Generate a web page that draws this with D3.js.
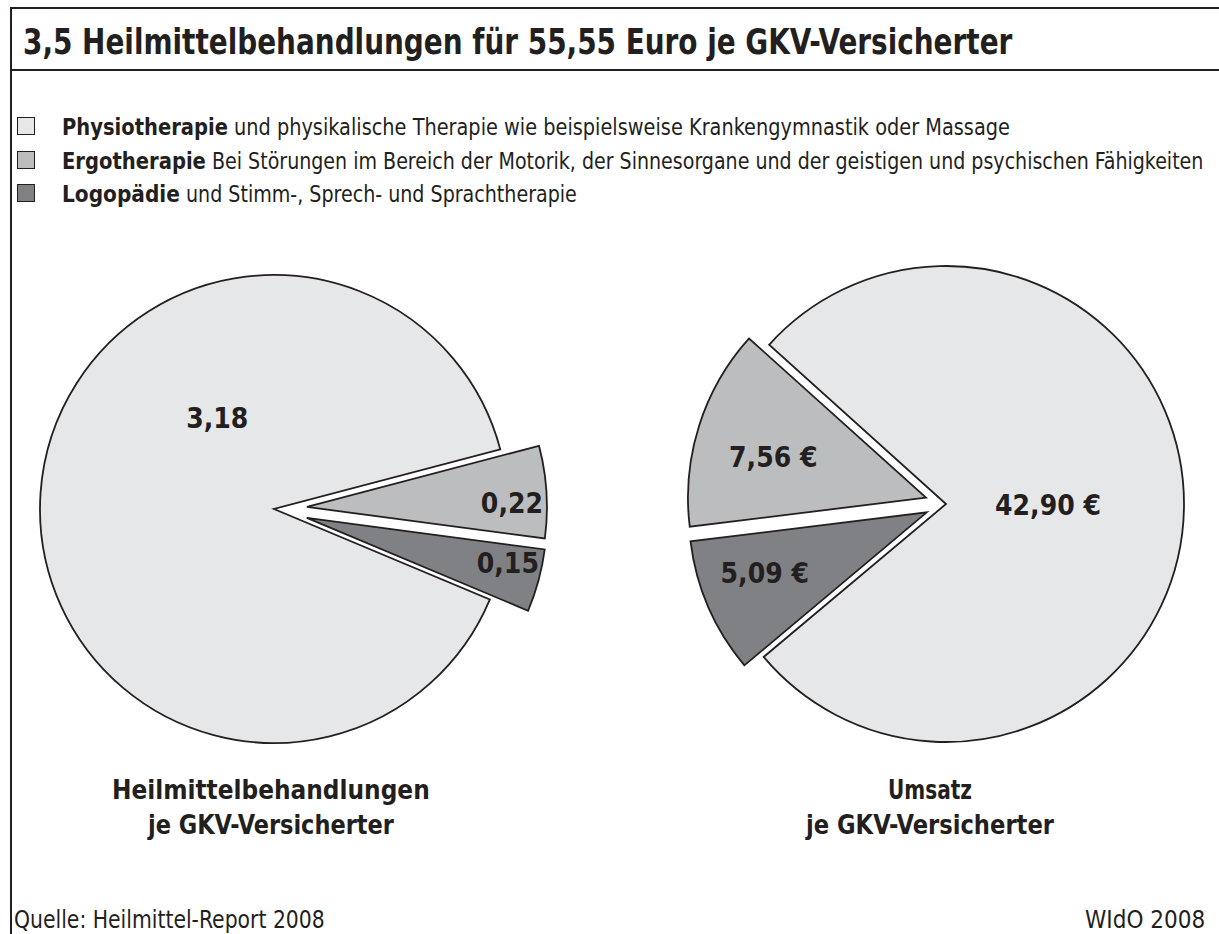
<!DOCTYPE html>
<html lang="de">
<head>
<meta charset="utf-8">
<title>Heilmittelbehandlungen je GKV-Versicherter</title>
<script src="https://d3js.org/d3.v7.min.js"></script>
<style>
  body { margin: 0; background: #fff; }
  text { fill: #231f20; }
  .bold { font-family: "Liberation Sans Narrow", "DejaVu Sans Condensed", sans-serif; font-weight: bold; }
  .light { font-family: "Liberation Sans Narrow", "DejaVu Sans Condensed", sans-serif; font-weight: normal; }
</style>
</head>
<body>
<div id="chart"></div>
<script>
// --- data
const categories = ["Physiotherapie", "Ergotherapie", "Logopädie"];
const legendRest = [
  "und physikalische Therapie wie beispielsweise Krankengymnastik oder Massage",
  "Bei Störungen im Bereich der Motorik, der Sinnesorgane und der geistigen und psychischen Fähigkeiten",
  "und Stimm-, Sprech- und Sprachtherapie"
];
const behandlungen = [3.18, 0.22, 0.15];
const umsatz = [42.90, 7.56, 5.09];
const behandlungenLabels = ["3,18", "0,22", "0,15"];
const umsatzLabels = ["42,90 €", "7,56 €", "5,09 €"];
const pieTitles = [["Heilmittelbehandlungen", "je GKV-Versicherter"], ["Umsatz", "je GKV-Versicherter"]];
const title = "3,5 Heilmittelbehandlungen für 55,55 Euro je GKV-Versicherter";
const source = "Quelle: Heilmittel-Report 2008";
const credit = "WIdO 2008";

// --- layout / style
const W = 1219, H = 934;
const colors = ["#e6e7e8", "#bcbdbf", "#808184"];
const ink = "#231f20";

const pies = [
  { values: behandlungen, labels: behandlungenLabels, cx: 274, cy: 509,
    radius: [234, 240, 240], explode: [0, 33, 34], gap: 94, dir: 1,
    labelPos: [[328, 107], [88.6, 238], [103, 240]],
    titleX: 271, titleW: [318, 246] },
  { values: umsatz, labels: umsatzLabels, cx: 946, cy: 504,
    radius: [238, 238, 238], explode: [0, 21, 21], gap: 271, dir: -1,
    labelPos: [[90.6, 102], [285.2, 179], [249.1, 194]],
    titleX: 930, titleW: [84, 248] }
];

const svg = d3.select("#chart").append("svg")
  .attr("width", W).attr("height", H)
  .attr("viewBox", `0 0 ${W} ${H}`);

// text squeezed horizontally to a given width (left edge x, or centred on x)
function fitText(cls, str, x, y, size, width, centred) {
  const t = svg.append("text").attr("class", cls)
    .attr("font-size", size).text(str);
  const natural = t.node().getComputedTextLength();
  const k = Math.min(1, width / natural);
  const x0 = centred ? x - width / 2 : x;
  t.attr("transform", `translate(${x0},${y}) scale(${k},1)`);
  return t;
}

// frame
svg.append("line").attr("x1", 11).attr("x2", W).attr("y1", 8).attr("y2", 8)
  .attr("stroke", ink).attr("stroke-width", 2);
svg.append("line").attr("x1", 11).attr("x2", 11).attr("y1", 7).attr("y2", H)
  .attr("stroke", ink).attr("stroke-width", 2);
svg.append("line").attr("x1", 11).attr("x2", W).attr("y1", 70).attr("y2", 70)
  .attr("stroke", ink).attr("stroke-width", 2);

fitText("bold", title, 23, 54, 35, 990, false);

// legend
const legendY = [135, 169, 202];
const boldW = [166, 144, 118];
const restW = [776, 992, 391];
categories.forEach(function(c, i) {
  svg.append("rect")
    .attr("x", 17.5).attr("y", legendY[i] - 17.5)
    .attr("width", 17).attr("height", 17)
    .attr("fill", colors[i]).attr("stroke", ink).attr("stroke-width", 1);
  fitText("bold", c, 62, legendY[i], 23, boldW[i], false);
  fitText("light", legendRest[i], 62 + boldW[i] + 6, legendY[i], 23, restW[i], false);
});

// pies
const deg = Math.PI / 180;
pies.forEach(function(p, k) {
  const total = d3.sum(p.values);
  const smallSpan = 360 * (total - p.values[0]) / total;
  const start = p.dir > 0 ? p.gap + smallSpan / 2 : p.gap - smallSpan / 2 + 360;
  const pie = d3.pie().sort(null)
    .startAngle(start * deg)
    .endAngle((start + p.dir * 360) * deg);
  const arcs = pie(p.values);

  const g = svg.append("g").attr("transform", `translate(${p.cx},${p.cy})`);

  g.selectAll("path")
    .data(arcs)
    .join("path")
    .attr("transform", function(d, i) {
      const mid = (d.startAngle + d.endAngle) / 2;
      return `translate(${Math.sin(mid) * p.explode[i]},${-Math.cos(mid) * p.explode[i]})`;
    })
    .attr("d", function(d, i) { return d3.arc().innerRadius(0).outerRadius(p.radius[i])(d); })
    .attr("fill", function(d, i) { return colors[i]; })
    .attr("stroke", ink)
    .attr("stroke-width", 1.8)
    .attr("stroke-linejoin", "miter");

  g.selectAll("text.val")
    .data(arcs)
    .join("text")
    .attr("class", "bold val")
    .attr("font-size", 28)
    .attr("text-anchor", "middle")
    .attr("dy", "0.36em")
    .attr("transform", function(d, i) {
      const pt = d3.pointRadial(p.labelPos[i][0] * deg, p.labelPos[i][1]);
      return `translate(${pt[0]},${pt[1]})`;
    })
    .text(function(d, i) { return p.labels[i]; });

  pieTitles[k].forEach(function(t, j) {
    fitText("bold", t, p.titleX, 799 + j * 35, 27, p.titleW[j], true);
  });
});

// footer
fitText("light", source, 14, 928, 24, 311, false);
fitText("light", credit, 1085, 928, 24, 123, false);
</script>
</body>
</html>
